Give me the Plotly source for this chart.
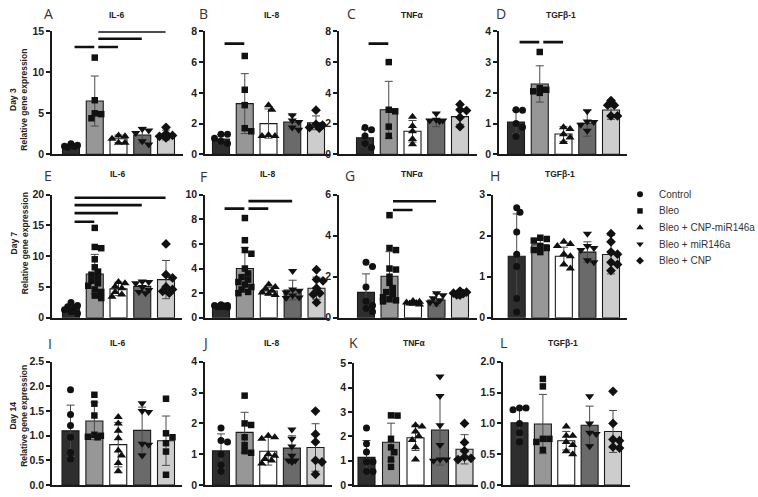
import numpy as np
import plotly.graph_objects as go

W, H = 758, 497

# ---------------- data ----------------
groups = ["Control", "Bleo", "Bleo + CNP-miR146a", "Bleo + miR146a", "Bleo + CNP"]
day_labels = ["Day 3", "Day 7", "Day 14"]
gene_labels = ["IL-6", "IL-8", "TNFα", "TGFβ-1"]
panel_letters = ["A", "B", "C", "D", "E", "F", "G", "H", "I", "J", "K", "L"]

# Day 3
mean_A = [1.05, 6.5, 1.9, 2.35, 2.35]
sd_A = [0.2, 3.05, 0.45, 0.95, 0.6]
pts_A = [[1.3, 1.1, 0.95, 0.85, 1.0], [11.8, 6.6, 5.0, 4.9, 4.4], [2.3, 2.2, 1.9, 1.4, 1.4],
         [3.1, 2.9, 2.6, 1.2, 1.6], [3.3, 2.5, 2.3, 2.2, 2.0]]
sig_A = [[0, 1, 13.1], [1, 2, 13.1], [1, 3, 14.1], [1, 4, 15.0]]
ticks_A = [0, 5, 10, 15]

mean_B = [1.0, 3.3, 2.0, 2.1, 2.05]
sd_B = [0.28, 1.95, 0.95, 0.45, 0.45]
pts_B = [[1.3, 1.3, 1.05, 0.85, 0.7], [6.4, 4.2, 3.2, 1.7, 1.5], [3.2, 2.9, 1.25, 1.2, 1.2],
         [2.55, 2.2, 2.1, 1.75, 1.6], [2.87, 1.95, 1.9, 1.75, 1.7]]
sig_B = [[0, 1, 7.2]]
ticks_B = [0, 2, 4, 6, 8]

mean_C = [1.08, 2.9, 1.5, 2.25, 2.45]
sd_C = [0.55, 1.85, 0.7, 0.45, 0.5]
pts_C = [[1.75, 1.6, 1.2, 0.7, 0.45], [6.0, 2.9, 2.8, 1.8, 1.2], [2.45, 1.85, 1.5, 1.0, 0.65],
         [2.65, 2.25, 2.2, 2.2, 2.15], [3.25, 2.9, 2.85, 2.4, 1.8]]
sig_C = [[0, 1, 7.2]]
ticks_C = [0, 2, 4, 6, 8]

mean_D = [1.05, 2.29, 0.66, 1.01, 1.44]
sd_D = [0.38, 0.59, 0.24, 0.42, 0.3]
pts_D = [[1.45, 1.43, 1.0, 0.88, 0.58], [3.33, 2.15, 2.1, 2.05, 2.0], [0.88, 0.82, 0.65, 0.55, 0.4],
         [1.4, 1.07, 1.05, 0.96, 0.77], [1.75, 1.6, 1.6, 1.25, 1.25]]
sig_D = [[0, 1, 3.65], [1, 2, 3.65]]
ticks_D = [0, 1, 2, 3, 4]

# Day 7
mean_E = [1.55, 7.1, 4.7, 5.1, 6.2]
sd_E = [0.6, 3.2, 1.1, 0.9, 3.1]
pts_E = [[2.5, 2.0, 1.8, 1.6, 1.3, 1.0, 0.7],
         [14.6, 11.5, 11.3, 9.5, 8.2, 7.5, 7.0, 6.6, 6.0, 5.6, 5.2, 4.6, 4.2, 3.6, 3.2],
         [5.8, 5.6, 5.1, 4.8, 4.2, 3.8, 3.4], [5.9, 5.8, 5.6, 5.0, 4.5, 4.2, 4.0],
         [12.0, 7.0, 6.5, 5.0, 4.6, 4.3, 4.0]]
sig_E = [[0, 1, 15.6], [0, 2, 17.0], [0, 3, 18.3], [0, 4, 19.5]]
ticks_E = [0, 5, 10, 15, 20]

mean_F = [0.95, 4.0, 2.17, 2.25, 2.4]
sd_F = [0.08, 1.7, 0.3, 0.8, 0.9]
pts_F = [[1.05, 1.0, 1.0, 0.95, 0.9, 0.9, 0.85],
         [8.1, 6.3, 5.5, 5.2, 4.0, 3.6, 3.3, 3.1, 2.9, 2.7, 2.5, 2.3, 2.1, 2.0],
         [2.7, 2.5, 2.35, 2.2, 2.05, 1.95, 1.85], [3.8, 2.3, 2.2, 2.05, 1.8, 1.65, 1.6],
         [3.9, 3.1, 3.0, 2.4, 2.0, 1.9, 1.25]]
sig_F = [[0, 1, 8.86], [1, 2, 8.86], [1, 3, 9.47]]
ticks_F = [0, 2, 4, 6, 8, 10]

mean_G = [1.24, 2.02, 0.73, 0.87, 1.2]
sd_G = [0.9, 1.2, 0.08, 0.3, 0.12]
pts_G = [[2.7, 2.5, 1.5, 0.8, 0.6, 0.45, 0.3],
         [5.0, 3.4, 3.3, 2.4, 2.35, 2.0, 1.7, 1.45, 1.25, 1.0, 0.85, 0.8, 0.9, 1.15],
         [0.82, 0.78, 0.75, 0.72, 0.7, 0.68, 0.65], [1.2, 1.1, 0.95, 0.85, 0.75, 0.7],
         [1.3, 1.25, 1.2, 1.18, 1.12, 1.1]]
sig_G = [[1, 2, 5.25], [1, 3, 5.68]]
ticks_G = [0, 2, 4, 6]

mean_H = [1.5, 1.78, 1.5, 1.6, 1.54]
sd_H = [1.03, 0.15, 0.22, 0.25, 0.47]
pts_H = [[2.68, 2.57, 2.09, 1.55, 1.25, 0.47, 0.14], [1.95, 1.92, 1.88, 1.75, 1.7, 1.65, 1.6],
         [1.85, 1.8, 1.75, 1.55, 1.5, 1.3, 1.2], [2.05, 1.75, 1.7, 1.65, 1.4, 1.35],
         [2.05, 1.85, 1.6, 1.55, 1.35, 1.3, 1.15]]
sig_H = []
ticks_H = [0, 1, 2, 3]

# Day 14
mean_I = [1.1, 1.3, 0.82, 1.11, 0.9]
sd_I = [0.52, 0.38, 0.45, 0.47, 0.5]
pts_I = [[1.93, 1.43, 1.21, 0.97, 0.66, 0.53], [1.83, 1.65, 1.41, 1.02, 1.0, 0.98, 0.97],
         [1.38, 1.25, 1.1, 0.95, 0.7, 0.6, 0.45, 0.28], [1.66, 1.5, 1.48, 0.84, 0.82, 0.6],
         [1.75, 1.05, 0.97, 0.85, 0.68, 0.21]]
sig_I = []
ticks_I = [0.0, 0.5, 1.0, 1.5, 2.0, 2.5]

mean_J = [1.11, 1.71, 1.1, 1.2, 1.22]
sd_J = [0.55, 0.65, 0.45, 0.4, 0.77]
pts_J = [[1.85, 1.45, 1.4, 1.0, 0.65, 0.45], [2.9, 2.0, 1.95, 1.55, 1.3, 1.1, 1.05],
         [1.6, 1.55, 1.5, 1.0, 0.95, 0.85, 0.8, 0.7], [1.8, 1.5, 1.25, 0.95, 0.8, 0.8, 0.75],
         [2.4, 1.65, 1.4, 0.8, 0.75, 0.35]]
sig_J = []
ticks_J = [0, 1, 2, 3, 4]

mean_K = [1.14, 1.76, 1.94, 2.26, 1.47]
sd_K = [0.69, 0.78, 0.52, 1.44, 0.6]
pts_K = [[2.34, 1.7, 1.36, 0.96, 0.96, 0.56, 0.56], [2.86, 2.85, 1.9, 1.55, 1.35, 1.05, 0.75],
         [2.45, 2.4, 2.2, 2.0, 1.85, 1.55, 1.05], [4.45, 3.65, 2.45, 1.65, 1.05, 1.0, 1.05],
         [2.53, 1.75, 1.4, 1.15, 1.1, 1.05]]
sig_K = []
ticks_K = [0, 1, 2, 3, 4, 5]

mean_L = [1.01, 0.99, 0.72, 0.97, 0.87]
sd_L = [0.23, 0.48, 0.15, 0.31, 0.34]
pts_L = [[1.25, 1.25, 1.22, 1.0, 0.85, 0.7], [1.72, 1.6, 0.75, 0.75, 0.7, 0.57],
         [0.95, 0.8, 0.8, 0.7, 0.65, 0.55, 0.5], [1.44, 1.0, 0.85, 0.83, 0.63],
         [1.52, 1.0, 0.74, 0.72, 0.62, 0.6]]
sig_L = []
ticks_L = [0.0, 0.5, 1.0, 1.5, 2.0]

means = [mean_A, mean_B, mean_C, mean_D, mean_E, mean_F, mean_G, mean_H, mean_I, mean_J, mean_K, mean_L]
sds = [sd_A, sd_B, sd_C, sd_D, sd_E, sd_F, sd_G, sd_H, sd_I, sd_J, sd_K, sd_L]
pts = [pts_A, pts_B, pts_C, pts_D, pts_E, pts_F, pts_G, pts_H, pts_I, pts_J, pts_K, pts_L]
sigs = [sig_A, sig_B, sig_C, sig_D, sig_E, sig_F, sig_G, sig_H, sig_I, sig_J, sig_K, sig_L]
ticks = [ticks_A, ticks_B, ticks_C, ticks_D, ticks_E, ticks_F, ticks_G, ticks_H, ticks_I, ticks_J, ticks_K, ticks_L]

# ---------------- styles / geometry ----------------
bar_colors = ["#2e2e2e", "#979797", "#ffffff", "#6a6a6a", "#cdcdcd"]
symbols = ["circle", "square", "triangle-up", "triangle-down", "diamond"]
sym_size = [7, 6.5, 8, 8, 7.5]
panel_symbols = {8: ["circle", "square", "triangle-up", "triangle-down", "square"]}

# pixel geometry: (axis x0, axis x1, first bar centre, last bar centre)
geom_x = [(52, 183, 71, 166), (205, 330, 221, 316), (339, 477, 365, 460), (499, 627, 516, 611),
          (52, 182, 71, 166), (205, 329, 221, 316.5), (339, 477, 366, 460), (493, 627, 516.7, 611),
          (52, 182, 70.5, 166), (205, 332, 221, 315.5), (354, 478, 366.5, 464.5), (503, 630, 519.5, 613)]
geom_y = [(26, 152)] * 4 + [(193.3, 319.5)] * 4 + [(364.5, 491), (364.5, 491), (366, 491), (364.5, 491)]
bar_px = 17.0

letter_pos = [(48, 8), (203, 8), (351, 8), (501, 8), (48, 174), (203, 175), (350, 174), (495, 174),
              (50, 346), (205, 345), (353, 345), (503, 345)]
title_pos = [(116, 9), (271, 9), (412, 9), (561, 9), (117, 172), (267, 172), (412, 172), (560, 172),
             (117, 345), (271, 345), (414, 345), (563, 345)]
day_pos_y = [96, 243, 420]

FONT = "Liberation Sans, Arial, sans-serif"


def swarm(vals, ppu_y, ppc, d=5.5):
    vals = list(vals)
    order = np.argsort(-np.asarray(vals), kind="stable")
    cands = [0.0, 3.3, -3.3, 6.5, -6.5]
    placed = []
    offs = [0.0] * len(vals)
    for idx in order:
        y = vals[idx] * ppu_y
        best, bestd = 0.0, -1
        for c in cands:
            md = min([np.hypot(c - px, y - py) for px, py in placed] + [1e9])
            if md >= d:
                best = c
                break
            if md > bestd:
                bestd, best = md, c
        placed.append((best, y))
        offs[idx] = best / ppc
    return offs


fig = go.Figure()
layout = dict(width=W, height=H, margin=dict(l=0, r=0, t=0, b=0), paper_bgcolor="white",
              plot_bgcolor="rgba(0,0,0,0)", showlegend=False, annotations=[])

for k in range(12):
    xn = "x" if k == 0 else f"x{k+1}"
    yn = "y" if k == 0 else f"y{k+1}"
    xk = "xaxis" if k == 0 else f"xaxis{k+1}"
    yk = "yaxis" if k == 0 else f"yaxis{k+1}"
    ax0, ax1, c0, c4 = geom_x[k]
    sp = (c4 - c0) / 4.0
    lo, hi = (ax0 - c0) / sp, (ax1 - c0) / sp
    ytop, ybot = geom_y[k]
    ymax = ticks[k][-1]
    ppu = (ybot - ytop) / ymax
    layout[xk] = dict(domain=[ax0 / W, ax1 / W], range=[lo, hi], anchor=yn, showline=True,
                      linecolor="#1a1a1a", linewidth=1.6, showticklabels=False, ticks="",
                      showgrid=False, zeroline=False, fixedrange=True)
    fmt = ".1f" if isinstance(ticks[k][-1], float) else "d"
    layout[yk] = dict(domain=[1 - ybot / H, 1 - ytop / H], range=[0, ymax], anchor=xn, showline=True,
                      linecolor="#1a1a1a", linewidth=1.6, ticks="outside", ticklen=4, tickwidth=1.6,
                      tickcolor="#1a1a1a", tickvals=ticks[k], tickformat=fmt, showgrid=False,
                      zeroline=False, fixedrange=True,
                      tickfont=dict(family=FONT, size=10.5, color="#222", weight="bold"))
    # bars
    fig.add_trace(go.Bar(x=list(range(5)), y=means[k], width=bar_px / sp, xaxis=xn, yaxis=yn,
                         marker=dict(color=bar_colors, line=dict(color="#1a1a1a", width=1.1)),
                         error_y=dict(type="data", array=sds[k], visible=True, color="#4a4a4a",
                                      thickness=1, width=4)))
    # points
    syms = panel_symbols.get(k, symbols)
    for g in range(5):
        offs = swarm(pts[k][g], ppu, sp)
        fig.add_trace(go.Scatter(x=[g + o for o in offs], y=pts[k][g], mode="markers", xaxis=xn, yaxis=yn,
                                 cliponaxis=False,
                                 marker=dict(symbol=syms[g], size=sym_size[g] if syms[g] == symbols[g] else 6.5,
                                             color="#111", line=dict(width=0))))
    # significance lines
    if sigs[k]:
        sx, sy = [], []
        for i, j, h in sigs[k]:
            sx += [i + 0.15, j - 0.02, None]
            sy += [h, h, None]
        fig.add_trace(go.Scatter(x=sx, y=sy, mode="lines", xaxis=xn, yaxis=yn, cliponaxis=False,
                                 line=dict(color="#111", width=2.6)))
    # letters / titles
    lx, ly = letter_pos[k]
    layout["annotations"].append(dict(text=panel_letters[k], x=lx / W, y=1 - ly / H, xref="paper", yref="paper",
                                      showarrow=False, xanchor="center", yanchor="middle",
                                      font=dict(family="Open Sans, sans-serif", size=14, color="#333")))
    tx, ty = title_pos[k]
    layout["annotations"].append(dict(text=gene_labels[k % 4], x=tx / W, y=1 - ty / H, xref="paper", yref="paper",
                                      showarrow=False, xanchor="center", yanchor="middle",
                                      font=dict(family=FONT, size=8.5, color="#222", weight="bold")))

for r in range(3):
    layout["annotations"].append(dict(text=f"{day_labels[r]}<br>Relative gene expression", x=19 / W,
                                      y=1 - day_pos_y[r] / H, xref="paper", yref="paper", showarrow=False,
                                      textangle=-90, xanchor="center", yanchor="middle",
                                      font=dict(family=FONT, size=8.5, color="#222", weight="bold")))

# legend (drawn on its own hidden axes)
leg_top, leg_gap = 184.5, 17
layout["xaxis13"] = dict(domain=[630 / W, 1.0], range=[0, 128], visible=False, fixedrange=True, anchor="y13")
layout["yaxis13"] = dict(domain=[1 - (leg_top + 5 * leg_gap) / H, 1 - leg_top / H], range=[4.5, -0.5],
                         visible=False, fixedrange=True, anchor="x13")
leg_sizes = [6, 5.5, 6.5, 6.5, 6]
for g in range(5):
    fig.add_trace(go.Scatter(x=[10], y=[g], mode="markers", xaxis="x13", yaxis="y13",
                             marker=dict(symbol=symbols[g], size=leg_sizes[g], color="#111")))
    layout["annotations"].append(dict(text=groups[g], x=27, y=g, xref="x13", yref="y13", showarrow=False,
                                      xanchor="left", yanchor="middle",
                                      font=dict(family=FONT, size=10, color="#333")))

fig.update_layout(**layout)
fig.write_html("out.html", config={"displayModeBar": False},
               post_script="document.body.style.margin='0';document.body.style.overflow='hidden';")
